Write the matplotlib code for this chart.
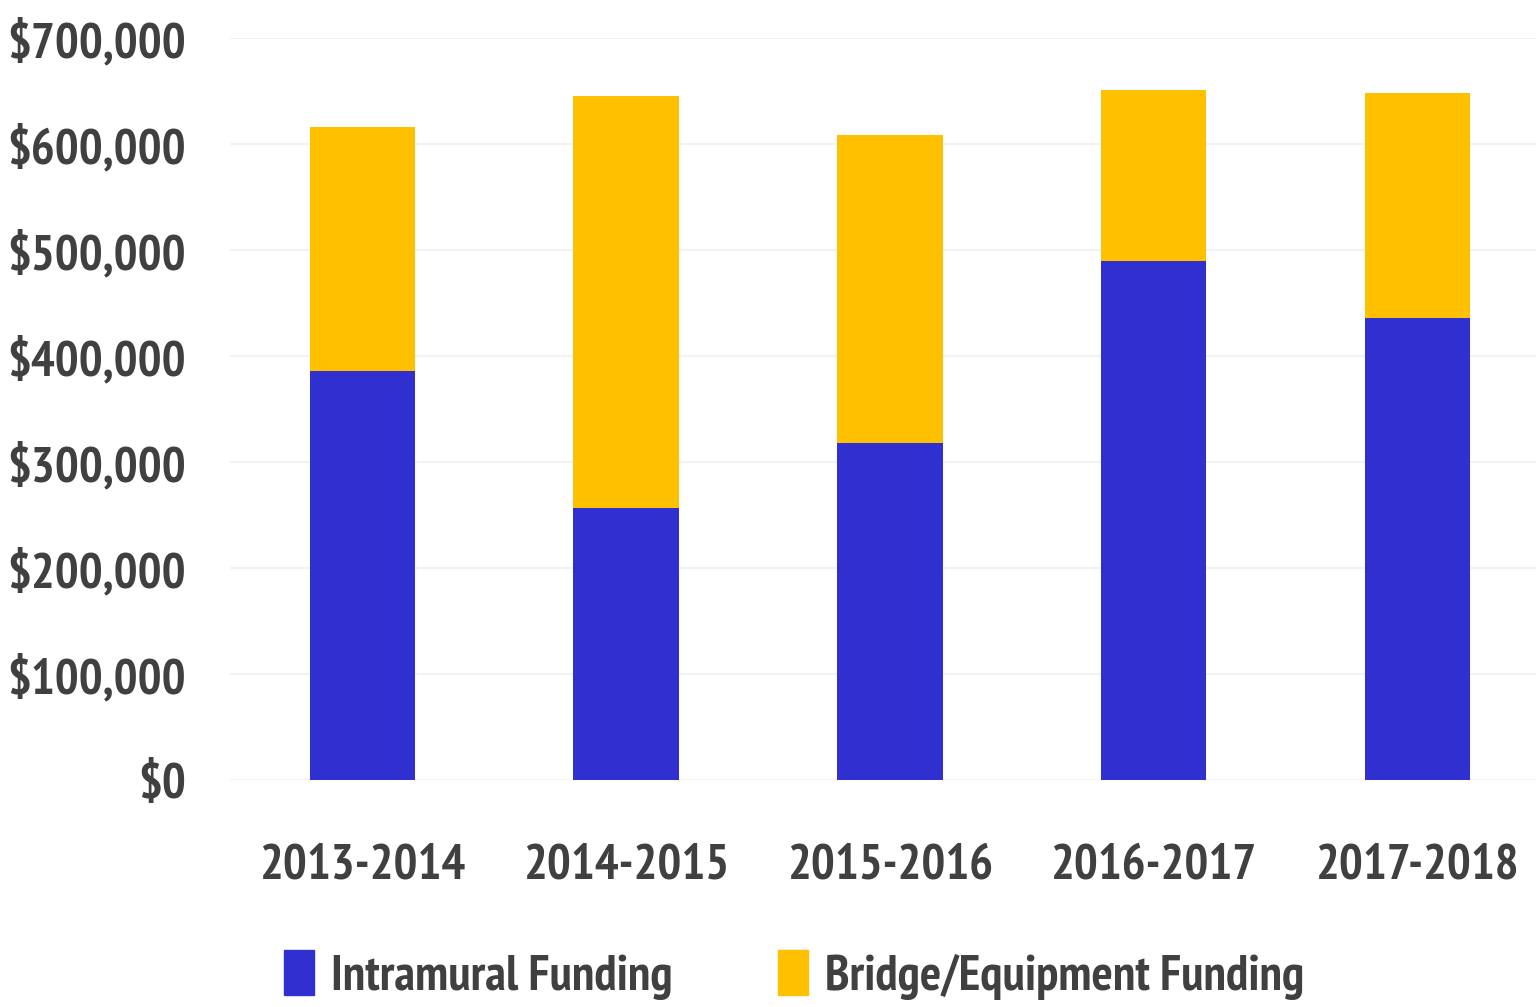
import matplotlib
matplotlib.use('Agg')
import matplotlib.pyplot as plt
from matplotlib import font_manager
from matplotlib.font_manager import FontProperties
from matplotlib.ticker import FuncFormatter
from matplotlib.patches import Patch

years = ["2013-2014", "2014-2015", "2015-2016", "2016-2017", "2017-2018"]
intramural = [386000, 257000, 318000, 490000, 436000]
bridge = [230000, 388000, 291000, 161000, 212000]

BLUE = '#3030d0'
GOLD = '#ffc000'
TXT = '#404040'

# a narrow bold face looks closest to the Calibri of the original; Lato otherwise
narrow = [f for f in font_manager.fontManager.ttflist
          if 'Narrow' in f.name and f.weight in (700, 'bold') and f.style == 'normal']
if narrow:
    def fp(size):
        return FontProperties(fname=narrow[0].fname, size=size)
    SIZE = 36
else:
    def fp(size):
        return FontProperties(family='Lato', weight='bold', size=size)
    SIZE = 30

fig = plt.figure(figsize=(15.36, 10.07), dpi=100)
ax = fig.add_axes([0.15, 0.2254, 0.85, 0.7368])

x = list(range(len(years)))
ax.bar(x, intramural, width=0.4, color=BLUE, label='Intramural Funding', zorder=2)
ax.bar(x, bridge, width=0.4, bottom=intramural, color=GOLD,
       label='Bridge/Equipment Funding', zorder=2)

ax.set_xlim(-0.5, 4.45)
ax.set_ylim(0, 700000)
ax.set_yticks(range(0, 700001, 100000))
ax.yaxis.set_major_formatter(FuncFormatter(lambda v, p: '${:,.0f}'.format(v)))
ax.set_xticks(x)
ax.set_xticklabels(years)

for s in ax.spines.values():
    s.set_visible(False)
ax.tick_params(length=0)
ax.tick_params(axis='y', pad=32)
ax.tick_params(axis='x', pad=46)
for lbl in ax.get_yticklabels() + ax.get_xticklabels():
    lbl.set_fontproperties(fp(SIZE))
    lbl.set_color(TXT)

ax.yaxis.grid(True, color='#f3f3f3', lw=1.5, zorder=0)

handles = [Patch(color=BLUE, label='Intramural Funding'),
           Patch(color=GOLD, label='Bridge/Equipment Funding')]
fig.legend(handles=handles, loc='center', bbox_to_anchor=(0.517, 0.032), ncol=2,
           frameon=False, handlelength=0.6, handleheight=1.0, handletextpad=0.35,
           columnspacing=2.1, prop=fp(SIZE), labelcolor=TXT)

fig.savefig('out.png', dpi=100)
